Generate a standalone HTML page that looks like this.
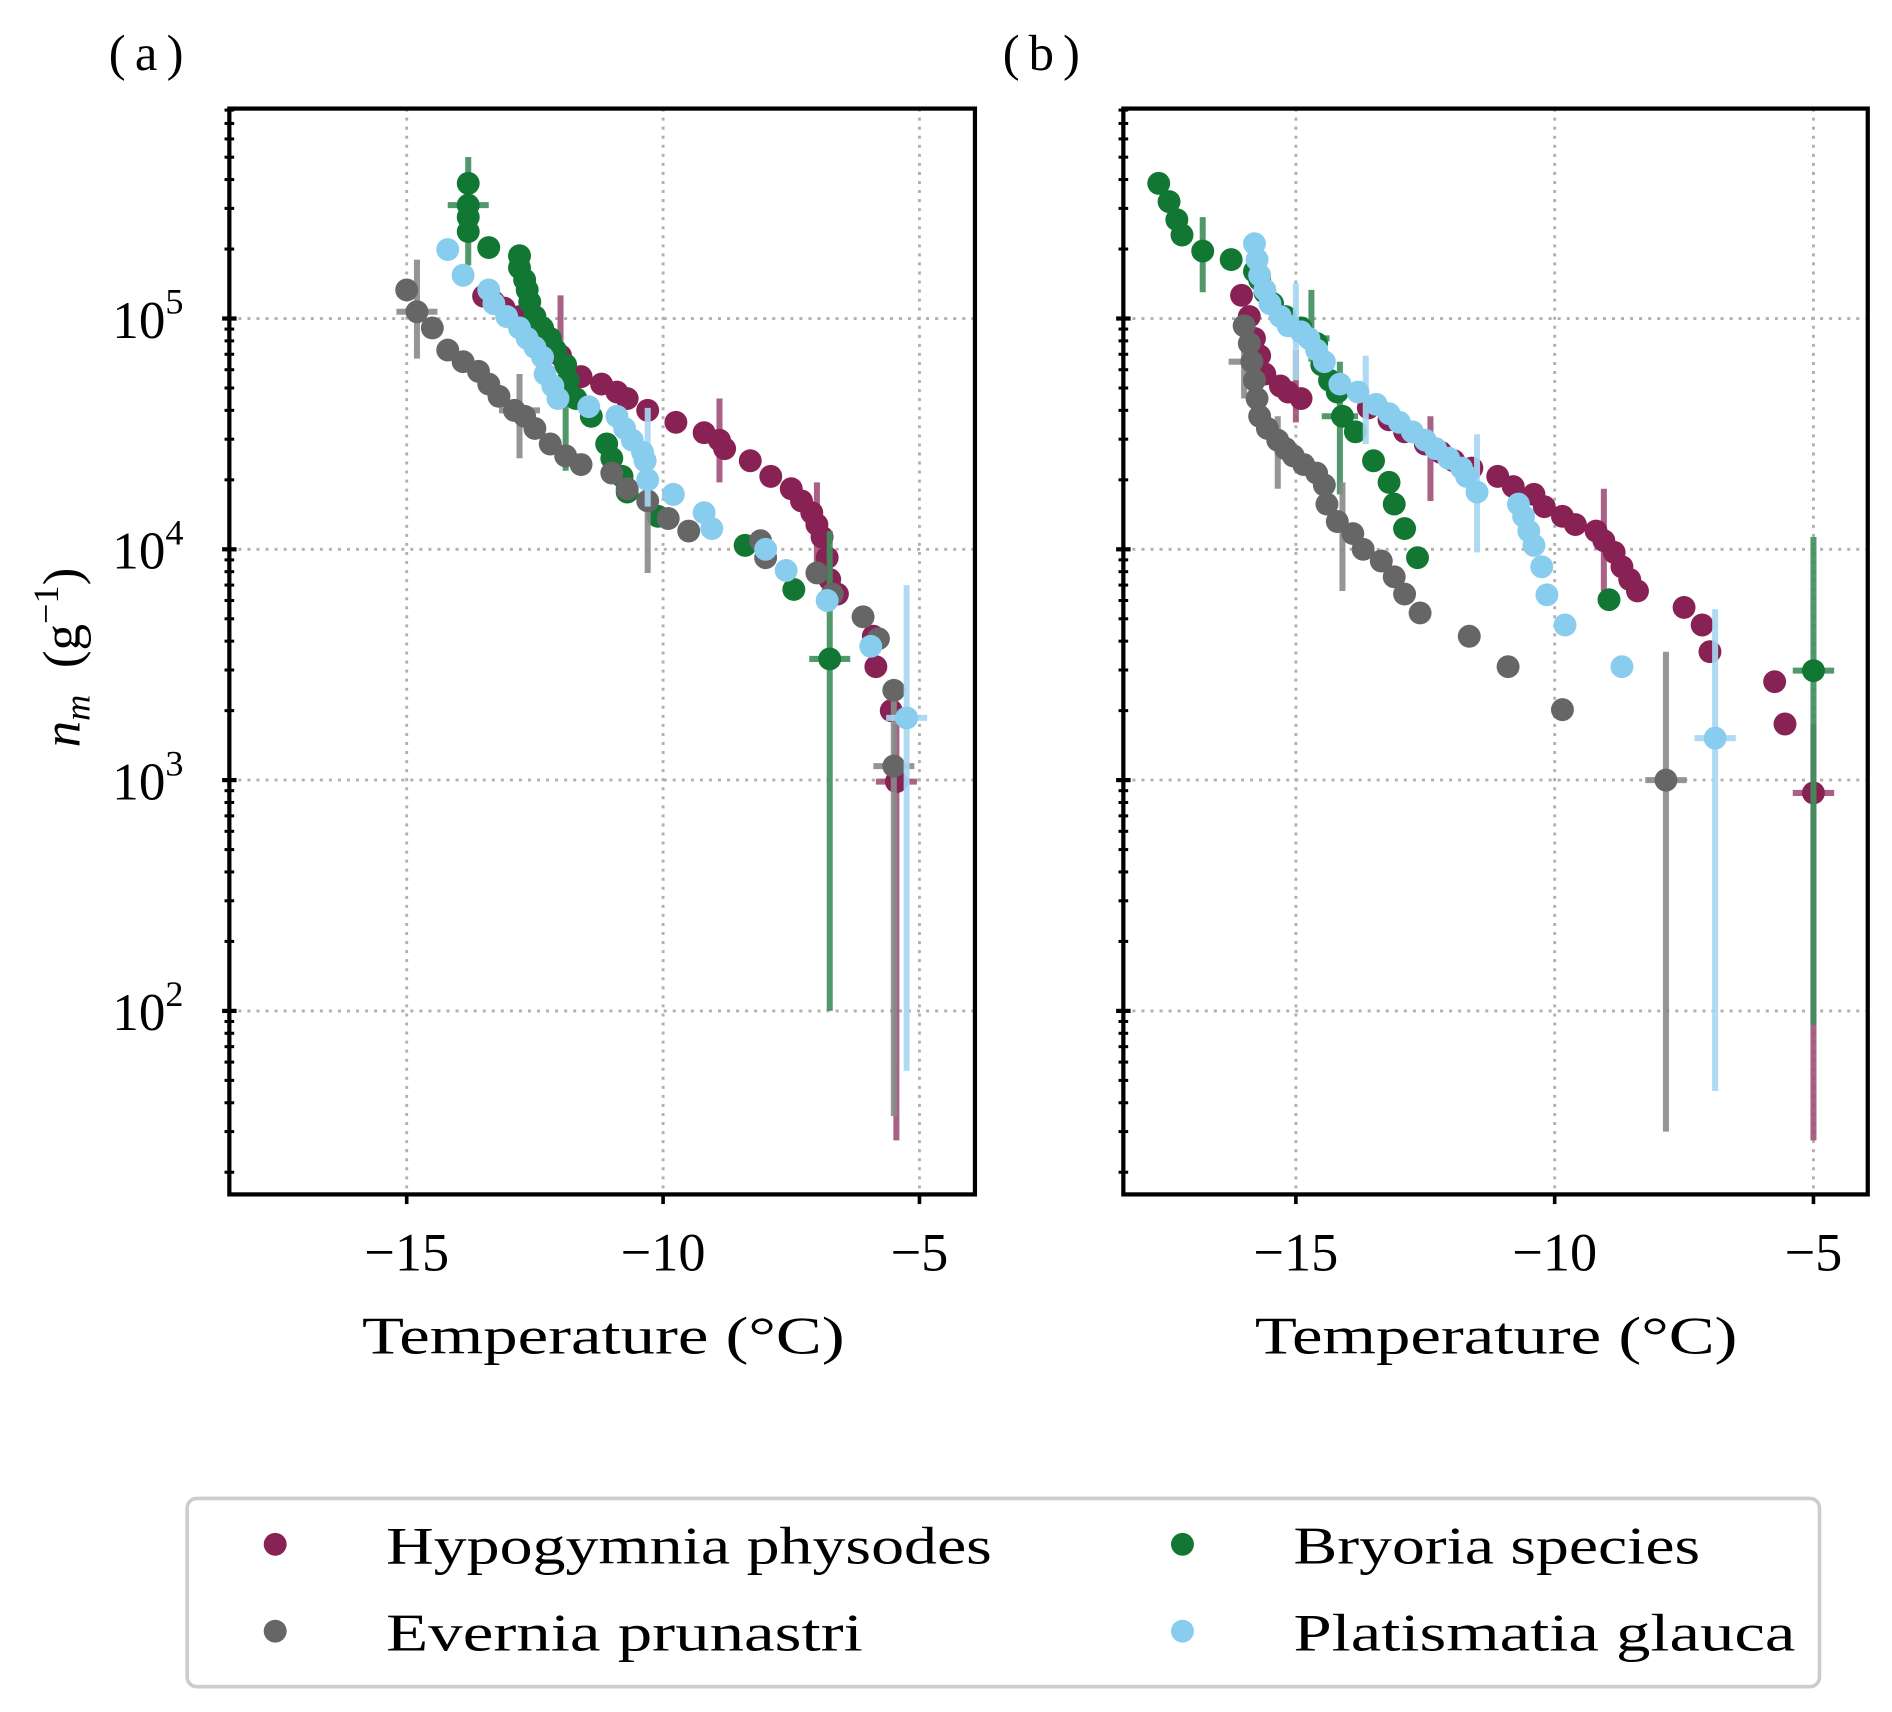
<!DOCTYPE html>
<html><head><meta charset="utf-8"><style>
html,body{margin:0;padding:0;background:#fff;}
svg{display:block;font-family:"Liberation Serif","DejaVu Serif",serif;}
</style></head><body>
<svg id="chart" width="1892" height="1712" viewBox="0 0 1568 1419" xmlns="http://www.w3.org/2000/svg">
<g id="layer"></g>
<text x="90" y="58" font-size="42" textLength="62">(a)</text>
<text x="831" y="58" font-size="42" textLength="64">(b)</text>
<text x="300" y="1122" font-size="44" textLength="400" lengthAdjust="spacingAndGlyphs">Temperature (°C)</text>
<text x="1040" y="1122" font-size="44" textLength="400" lengthAdjust="spacingAndGlyphs">Temperature (°C)</text>
<text transform="translate(66,545) rotate(-90)" font-size="44" text-anchor="middle"><tspan font-style="italic">n</tspan><tspan font-style="italic" font-size="30" dy="8">m</tspan><tspan dy="-8" xml:space="preserve">  (g</tspan><tspan font-size="30" dy="-18">−1</tspan><tspan dy="18">)</tspan></text>
<g>
<rect x="155" y="1242" width="1353" height="156" rx="8" fill="#fff" stroke="#cccccc" stroke-width="3"/>
<circle cx="228" cy="1280" r="9.5" fill="#882255"/>
<text x="320" y="1296" font-size="44" textLength="502" lengthAdjust="spacingAndGlyphs">Hypogymnia physodes</text>
<circle cx="228" cy="1352" r="9.5" fill="#666666"/>
<text x="320" y="1368" font-size="44" textLength="395" lengthAdjust="spacingAndGlyphs">Evernia prunastri</text>
<circle cx="980" cy="1280" r="9.5" fill="#117733"/>
<text x="1072" y="1296" font-size="44" textLength="337" lengthAdjust="spacingAndGlyphs">Bryoria species</text>
<circle cx="980" cy="1352" r="9.5" fill="#88CCEE"/>
<text x="1072" y="1368" font-size="44" textLength="416" lengthAdjust="spacingAndGlyphs">Platismatia glauca</text>
</g>
</svg>
<script>
// ---- data: panel (a) ----
const aHypT=[-13.5,-13.3,-13.1,-12.8,-12.5,-12.2,-12.0,-11.6,-11.2,-10.9,-10.7,-10.3,-9.75,-9.2,-8.9,-8.8,-8.3,-7.9,-7.5,-7.3,-7.1,-7.0,-6.9,-6.8,-6.75,-6.6,-5.9,-5.85,-5.55,-5.45];
const aHypN=[125e3,118e3,111e3,102e3,88e3,78e3,69e3,56e3,52e3,48e3,45e3,40e3,35.5e3,32e3,29.7e3,27.3e3,24.2e3,20.7e3,18.3e3,16.2e3,14.4e3,12.8e3,11.3e3,9200,7400,6400,4200,3100,2000,985];
const aHypErrT=[-12.0,-8.9,-7.0,-5.45];
const aHypErrN=[69000,28600,12000,985];
const aHypErrLo=[57500,19500,8400,27.5];
const aHypErrHi=[126000,45000,19500,1750];
const aHypErrDT=[0,0,0,0.4];

const aEveT=[-15.0,-14.8,-14.5,-14.2,-13.9,-13.6,-13.4,-13.2,-12.9,-12.7,-12.5,-12.2,-11.9,-11.6,-11.0,-10.7,-10.3,-9.9,-9.5,-8.1,-8.0,-7.0,-6.7,-6.1,-5.8,-5.5,-5.5];
const aEveN=[133000,107000,91000,73000,65000,59000,52000,46000,40000,37700,33400,28600,25400,23300,21400,18300,16200,13600,12000,10900,9200,7900,6400,5100,4100,2450,1150];
const aEveErrT=[-14.8,-12.8,-10.3,-5.5];
const aEveErrN=[107000,40000,13600,1150];
const aEveErrLo=[67000,24800,7900,35];
const aEveErrHi=[180000,57500,18300,2500];
const aEveErrDT=[0.4,0.4,0,0.4];

const aBryT=[-13.8,-13.8,-13.8,-13.8,-13.4,-12.8,-12.8,-12.7,-12.65,-12.6,-12.5,-12.35,-12.2,-12.1,-11.9,-11.85,-11.7,-11.4,-11.1,-11.0,-10.8,-10.7,-10.1,-8.4,-7.45,-6.75];
const aBryN=[385000,310000,275000,238000,203000,187000,166000,147000,133000,118000,102000,91000,82000,73000,63000,54000,45000,37700,28600,24800,20700,17700,13900,10400,6700,3350];
const aBryErrT=[-13.8,-11.9,-6.75];
const aBryErrN=[310000,40000,3350];
const aBryErrLo=[170000,21900,100];
const aBryErrHi=[501000,65000,12000];
const aBryErrDT=[0.4,0,0.4];

const aPlaT=[-14.2,-13.9,-13.4,-13.3,-13.05,-12.8,-12.65,-12.5,-12.35,-12.3,-12.15,-12.05,-11.45,-10.9,-10.75,-10.6,-10.4,-10.35,-10.3,-9.8,-9.2,-9.05,-8.0,-7.6,-6.8,-5.95,-5.25];
const aPlaN=[199000,154000,133000,116000,102000,91000,82000,75000,68000,57500,51000,45000,41500,37700,33400,29700,26300,24200,20000,17300,14400,12300,10000,8100,6000,3800,1860];
const aPlaErrT=[-10.3,-5.25];
const aPlaErrN=[24800,1860];
const aPlaErrLo=[15300,55];
const aPlaErrHi=[41000,7000];
const aPlaErrDT=[0,0.4];

// ---- data: panel (b) ----
const bHypT=[-16.05,-15.9,-15.8,-15.7,-15.6,-15.3,-15.15,-14.9,-13.6,-13.2,-12.9,-12.5,-12.2,-11.95,-11.6,-11.1,-10.8,-10.4,-10.2,-9.85,-9.6,-9.2,-9.05,-8.85,-8.7,-8.55,-8.4,-7.5,-7.15,-7.0,-5.75,-5.55,-5.0];
const bHypN=[126000,102000,82000,69000,57500,51000,48000,45000,41000,36400,32300,28600,26300,24200,22500,20700,18700,17300,15300,13900,12800,12000,10900,9700,8400,7400,6600,5600,4700,3600,2670,1750,880];
const bHypErrT=[-15.0,-12.4,-9.05,-5.0];
const bHypErrN=[51000,24800,10900,880];
const bHypErrLo=[35500,16200,6600,27.5];
const bHypErrHi=[73000,37700,18300,1750];
const bHypErrDT=[0,0,0,0.4];

const bEveT=[-16.0,-15.9,-15.85,-15.8,-15.75,-15.7,-15.55,-15.35,-15.2,-15.05,-14.85,-14.6,-14.45,-14.4,-14.2,-13.9,-13.7,-13.35,-13.1,-12.9,-12.6,-11.65,-10.9,-9.85,-7.85];
const bEveN=[93000,78000,65000,54000,45000,37700,33400,29700,27300,25400,23300,21400,19000,15700,13200,11700,10000,8900,7600,6400,5300,4200,3100,2020,1000];
const bEveErrT=[-16.0,-15.35,-14.1,-7.85];
const bEveErrN=[65000,29700,12000,1000];
const bEveErrLo=[45000,18300,6600,30];
const bEveErrHi=[99000,37700,19500,3600];
const bEveErrDT=[0.3,0,0,0.4];

const bBryT=[-17.65,-17.45,-17.3,-17.2,-16.8,-16.25,-15.8,-15.7,-15.6,-15.45,-15.2,-14.9,-14.6,-14.5,-14.35,-14.2,-14.1,-13.85,-13.5,-13.2,-13.1,-12.9,-12.65,-8.95,-5.0];
const bBryN=[385000,321000,268000,230000,196000,180000,160000,147000,130000,116000,102000,91000,78000,63000,54000,48000,37700,32300,24200,19500,15700,12300,9200,6050,2980];
const bBryErrT=[-16.8,-14.7,-14.15,-5.0];
const bBryErrN=[196000,82000,37700,2980];
const bBryErrLo=[130000,65000,17300,87];
const bBryErrHi=[275000,133000,65000,11300];
const bBryErrDT=[0,0.35,0.35,0.4];

const bPlaT=[-15.8,-15.75,-15.7,-15.6,-15.5,-15.3,-15.15,-14.9,-14.75,-14.6,-14.45,-14.15,-13.8,-13.45,-13.2,-13.0,-12.75,-12.5,-12.3,-12.05,-11.8,-11.7,-11.5,-10.7,-10.6,-10.5,-10.4,-10.25,-10.15,-9.8,-8.7,-6.9];
const bPlaN=[211000,180000,154000,133000,116000,102000,93000,87500,82000,73000,65000,52000,48000,42500,38700,35500,32300,29700,27300,24800,22500,20700,17700,15700,13900,12000,10400,8400,6350,4700,3100,1520];
const bPlaErrT=[-15.0,-13.65,-11.5,-6.9];
const bPlaErrN=[87500,45000,17700,1520];
const bPlaErrLo=[54000,28600,9700,45];
const bPlaErrHi=[142000,69000,31500,5500];
const bPlaErrDT=[0,0,0,0.4];

const xTicks=[-15,-10,-5];
const xTickLabels=["−15","−10","−5"];
const yTicks=[2,3,4,5];

const NS="http://www.w3.org/2000/svg";
const layer=document.getElementById('layer');
const Y0=264, YPD=191.3, YTOP=90, YBOT=990;
function yScale(n){return Y0-(Math.log10(n)-5)*YPD;}
const panels=[
 {key:'a',left:190,right:808,ref:337,ppd:42.5},
 {key:'b',left:931,right:1548,ref:1074,ppd:42.9}
];
function xScaleOf(p){return function(t){return p.ref+(t+15)*p.ppd;};}
function mk(tag,attrs,parent){const e=document.createElementNS(NS,tag);for(const k in attrs)e.setAttribute(k,attrs[k]);(parent||layer).appendChild(e);return e;}

const colors={hyp:'#882255',eve:'#666666',bry:'#117733',pla:'#88CCEE'};
const errColors={hyp:'#a05078',eve:'#8a8a8a',bry:'#3f8f5a',pla:'#a6d8f2'};
const seriesData={
 a:{hyp:[aHypT,aHypN,aHypErrT,aHypErrN,aHypErrLo,aHypErrHi,aHypErrDT],eve:[aEveT,aEveN,aEveErrT,aEveErrN,aEveErrLo,aEveErrHi,aEveErrDT],bry:[aBryT,aBryN,aBryErrT,aBryErrN,aBryErrLo,aBryErrHi,aBryErrDT],pla:[aPlaT,aPlaN,aPlaErrT,aPlaErrN,aPlaErrLo,aPlaErrHi,aPlaErrDT]},
 b:{hyp:[bHypT,bHypN,bHypErrT,bHypErrN,bHypErrLo,bHypErrHi,bHypErrDT],eve:[bEveT,bEveN,bEveErrT,bEveErrN,bEveErrLo,bEveErrHi,bEveErrDT],bry:[bBryT,bBryN,bBryErrT,bBryErrN,bBryErrLo,bBryErrHi,bBryErrDT],pla:[bPlaT,bPlaN,bPlaErrT,bPlaErrN,bPlaErrLo,bPlaErrHi,bPlaErrDT]}
};
const order=['hyp','bry','eve','pla'];

panels.forEach(p=>{
 const xs=xScaleOf(p);
 const g=mk('g',{});
 
 
 xTicks.forEach((t,i)=>{
  const l=mk('line',{x1:xs(t),x2:xs(t),y1:YTOP,y2:YBOT,stroke:'#b0b0b0','stroke-width':2.4,'stroke-dasharray':'2.5 5'},g);
  
  
 });
 yTicks.forEach(e=>{
  const y=yScale(Math.pow(10,e));
  const l=mk('line',{x1:p.left,x2:p.right,y1:y,y2:y,stroke:'#b0b0b0','stroke-width':2.4,'stroke-dasharray':'2.5 5'},g);
  
  
 });
 order.forEach(s=>{
  const d=seriesData[p.key][s];
  const sg=mk('g',{},g);
  
  
  for(let i=0;i<d[2].length;i++){
   const x=xs(d[2][i]), y=yScale(d[3][i]);
   const v=mk('line',{x1:x,x2:x,y1:yScale(d[4][i]),y2:yScale(d[5][i]),stroke:errColors[s],'stroke-width':5,opacity:0.9},sg);
   
   
   if(d[6][i]>0){
    const h=mk('line',{x1:xs(d[2][i]-d[6][i]),x2:xs(d[2][i]+d[6][i]),y1:y,y2:y,stroke:errColors[s],'stroke-width':5,opacity:0.9},sg);
    
    
   }
  }
  for(let i=0;i<d[0].length;i++){
   const c=mk('circle',{cx:xs(d[0][i]),cy:yScale(d[1][i]),r:9.5,fill:colors[s]},sg);
   
   
  }
 });
 const fr=mk('rect',{x:p.left,y:YTOP,width:p.right-p.left,height:YBOT-YTOP,fill:'none',stroke:'#000','stroke-width':3.5},g);
 
 
 xTicks.forEach((t,i)=>{
  const x=xs(t);
  const tk=mk('line',{x1:x,x2:x,y1:YBOT,y2:YBOT+8,stroke:'#000','stroke-width':3},g);
  
  
  const tx=mk('text',{x:x,y:1053,'font-size':45,'text-anchor':'middle'},g);
  tx.textContent=xTickLabels[i];
  
  
 });
 for(let e=1;e<=5;e++){
  for(let m=1;m<=9;m++){
   const y=yScale(m*Math.pow(10,e));
   if(y<YTOP-0.5||y>YBOT+0.5)continue;
   const w=m===1?6:4;
   const tk=mk('line',{x1:p.left-w,x2:p.left+w,y1:y,y2:y,stroke:'#000','stroke-width':m===1?3.5:2.5},g);
   
   
  }
 }
 if(p.key==='a'){
  yTicks.forEach(e=>{
   const y=yScale(Math.pow(10,e));
   const tx=mk('text',{x:93,y:y+16,'font-size':44},g);
   tx.innerHTML='10<tspan font-size="30" dy="-20">'+e+'</tspan>';
   
   
  });
 }
});
</script>
</body></html>
